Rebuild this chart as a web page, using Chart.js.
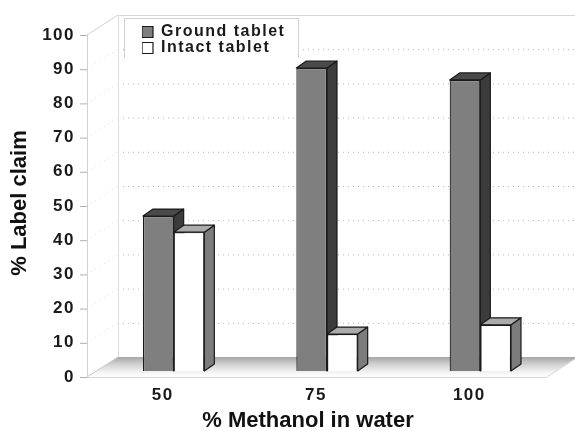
<!DOCTYPE html>
<html>
<head>
<meta charset="utf-8">
<style>html,body{margin:0;padding:0;background:#fff}canvas{display:block}</style>
<script src="https://cdn.jsdelivr.net/npm/chart.js@4"></script>
</head>
<body>
<canvas id="c" width="575" height="431"></canvas>
<script>
const categories = ['50', '75', '100'];
const groundTablet = [45.3, 88.6, 85.1];
const intactTablet = [40.6, 10.8, 13.5];
const axisMin = 0, axisMax = 100, axisStep = 10;
const xTitle = '% Methanol in water';
const yTitle = '% Label claim';

// 3D projection offsets relative to the plane the bars stand on
const FRONT = {dx: -10, dy: 6};
const BACK = {dx: 21, dy: -14};
const DEPTH = {dx: 10, dy: -7};
const FONT = 'Liberation Sans, Arial, sans-serif';

function poly(ctx, pts, fill, stroke, lw) {
  ctx.beginPath();
  pts.forEach((p, i) => i ? ctx.lineTo(p[0], p[1]) : ctx.moveTo(p[0], p[1]));
  ctx.closePath();
  if (fill) { ctx.fillStyle = fill; ctx.fill(); }
  if (stroke) { ctx.strokeStyle = stroke; ctx.lineWidth = lw || 1; ctx.stroke(); }
}
function line(ctx, x1, y1, x2, y2, color, dash, lw) {
  ctx.beginPath();
  ctx.setLineDash(dash || []);
  ctx.strokeStyle = color;
  ctx.lineWidth = lw || 1;
  ctx.moveTo(x1, y1);
  ctx.lineTo(x2, y2);
  ctx.stroke();
  ctx.setLineDash([]);
}
function wrapTitle(scale, tx, ty) {
  if (scale._wrapped) return;
  const orig = scale.drawTitle;
  scale.drawTitle = function () {
    this.ctx.save();
    this.ctx.letterSpacing = '0px';
    this.ctx.translate(tx, ty);
    orig.apply(this, arguments);
    this.ctx.restore();
  };
  scale._wrapped = true;
}

const stage3d = {
  id: 'stage3d',
  beforeLayout(chart) { chart.ctx.letterSpacing = '1.5px'; },
  afterLayout(chart) {
    const lg = chart.legend;
    const w = lg.width, h = lg.height;
    lg.left = 142; lg.top = 24; lg.right = 142 + w; lg.bottom = 24 + h;
    wrapTitle(chart.scales.x, -19, 3);
    wrapTitle(chart.scales.y, 1, 3);
  },
  beforeDraw(chart) {
    const ctx = chart.ctx, a = chart.chartArea, y = chart.scales.y;
    ctx.letterSpacing = '1.5px';
    ctx.save();
    const y0 = y.getPixelForValue(axisMin), y1 = y.getPixelForValue(axisMax);
    const fl = a.left + FRONT.dx, fr = a.right + FRONT.dx;
    const bl = a.left + BACK.dx, br = a.right + BACK.dx;

    // floor
    const floorFront = y0 + FRONT.dy, floorBack = y0 + BACK.dy;
    const g = ctx.createLinearGradient(0, floorBack, 0, floorFront);
    g.addColorStop(0, '#a6a6a6');
    g.addColorStop(0.35, '#d0d0d0');
    g.addColorStop(0.8, '#f6f6f6');
    g.addColorStop(1, '#ffffff');
    poly(ctx, [[fl, floorFront], [fr, floorFront], [br, floorBack], [bl, floorBack]], g);
    line(ctx, fl, floorFront + .5, fr, floorFront + .5, '#d8d8d8');
    line(ctx, fr, floorFront, br, floorBack, '#d8d8d8');
    line(ctx, fl, floorFront, bl, floorBack, '#c8c8c8');

    // grid, left wall and tick marks
    y.ticks.forEach(t => {
      const p = y.getPixelForValue(t.value);
      const pf = p + FRONT.dy, pb = p + BACK.dy;
      if (t.value > axisMin && t.value < axisMax) {
        line(ctx, bl, pb + .5, br, pb + .5, '#b4b4b4', [1, 4]);
        line(ctx, fl, pf, bl, pb, '#dcdcdc', [1, 4]);
      }
      line(ctx, fl - 7, pf + .5, fl, pf + .5, '#b0b0b0');
    });
    const top = y1 + BACK.dy, topF = y1 + FRONT.dy;
    line(ctx, bl, top + .5, br, top + .5, '#d6d6d6');
    line(ctx, fl, topF, bl, top, '#d0d0d0');
    line(ctx, fl + .5, topF, fl + .5, floorFront, '#d0d0d0');
    line(ctx, bl + .5, top, bl + .5, floorBack, '#dddddd');

    // legend panel
    ctx.fillStyle = '#fff';
    ctx.fillRect(124, 18, 175, 41);
    line(ctx, 124.5, 18.5, 298.5, 18.5, '#d0d0d0');
    line(ctx, 124.5, 18.5, 124.5, 58, '#d0d0d0');
    line(ctx, 298.5, 18.5, 298.5, 58, '#d0d0d0');
    ctx.restore();
  },
  beforeDatasetsDraw(chart) {
    const ctx = chart.ctx;
    const sideCol = ['#3c3c3c', '#7c7c7c'];
    const topCol = ['#4a4a4a', '#ababab'];
    ctx.save();
    ctx.lineJoin = 'round';
    chart.data.datasets.forEach((ds, i) => {
      chart.getDatasetMeta(i).data.forEach(b => {
        const l = b.x - b.width / 2, r = b.x + b.width / 2, t = b.y, base = b.base;
        const d = DEPTH;
        poly(ctx, [[r, base], [r + d.dx, base + d.dy], [r + d.dx, t + d.dy], [r, t]], sideCol[i], '#1a1a1a', 1.2);
        poly(ctx, [[l, t], [l + d.dx, t + d.dy], [r + d.dx, t + d.dy], [r, t]], topCol[i], '#1a1a1a', 1.2);
      });
    });
    ctx.restore();
  }
};

new Chart(document.getElementById('c'), {
  type: 'bar',
  data: {
    labels: categories,
    datasets: [
      {label: 'Ground tablet', data: groundTablet, backgroundColor: '#7f7f7f', borderColor: '#1a1a1a', borderWidth: 1.2},
      {label: 'Intact tablet', data: intactTablet, backgroundColor: '#ffffff', borderColor: '#1a1a1a', borderWidth: 1.2}
    ]
  },
  options: {
    responsive: false,
    animation: false,
    devicePixelRatio: 1,
    layout: {padding: {top: 29, right: 18, bottom: 0, left: 0}},
    datasets: {bar: {barPercentage: 1, categoryPercentage: 0.4}},
    plugins: {
      tooltip: {enabled: false},
      legend: {
        position: 'chartArea',
        align: 'start',
        labels: {
          boxWidth: 11, boxHeight: 11, padding: 0,
          color: '#1a1a1a',
          font: {family: FONT, size: 16, weight: 'bold', lineHeight: 1}
        }
      }
    },
    scales: {
      x: {
        afterFit(s) { s.height = 60; },
        grid: {display: false},
        border: {display: false},
        ticks: {
          color: '#1a1a1a', padding: 6, labelOffset: -11,
          autoSkip: false, maxRotation: 0,
          font: {family: FONT, size: 17, weight: 'bold'}
        },
        title: {
          display: true, text: xTitle, color: '#111',
          padding: {top: 0, bottom: 0},
          font: {family: FONT, size: 22, weight: 'bold'}
        }
      },
      y: {
        min: axisMin, max: axisMax,
        afterFit(s) { s.width = 97; },
        grid: {display: false},
        border: {display: false},
        ticks: {
          stepSize: axisStep, color: '#1a1a1a', padding: 14, labelOffset: 6,
          font: {family: FONT, size: 17, weight: 'bold'}
        },
        title: {
          display: true, text: yTitle, color: '#111',
          padding: {top: 6, bottom: 0},
          font: {family: FONT, size: 22, weight: 'bold'}
        }
      }
    }
  },
  plugins: [stage3d]
});
</script>
</body>
</html>
